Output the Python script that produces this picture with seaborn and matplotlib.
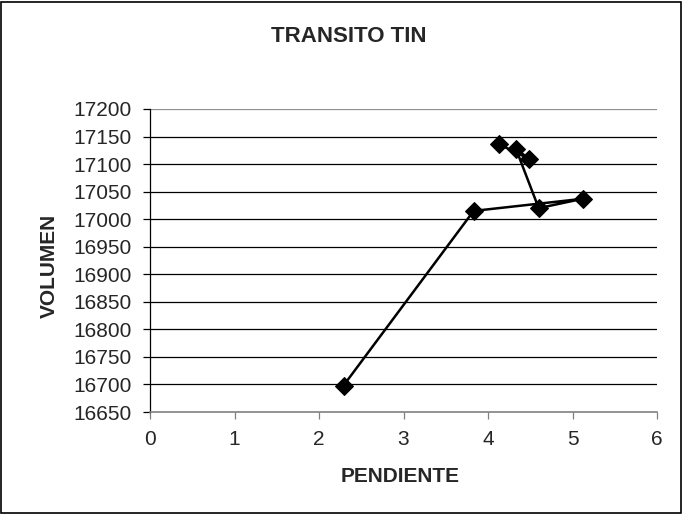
import pandas as pd
import matplotlib.pyplot as plt
import seaborn as sns

pendiente = [2.29, 3.83, 5.12, 4.60, 4.33, 4.48, 4.13]
volumen = [16698, 17015, 17037, 17020, 17128, 17110, 17136]
y_ticks = list(range(16650, 17201, 50))
x_ticks = [0, 1, 2, 3, 4, 5, 6]

data = pd.DataFrame({'PENDIENTE': pendiente, 'VOLUMEN': volumen})

sns.set_style('white')
plt.rcParams['font.family'] = ['Liberation Sans', 'DejaVu Sans']

fig = plt.figure(figsize=(6.84, 5.14), dpi=100)
ax = fig.add_axes([150 / 684, 1 - 412 / 514, 507 / 684, 303 / 514])

for v in y_ticks[1:]:
    ax.axhline(v, color='#909090' if v == y_ticks[-1] else 'black', lw=0.9, zorder=1)

sns.lineplot(data=data, x='PENDIENTE', y='VOLUMEN', sort=False, estimator=None,
             marker='D', markersize=9, color='black', markeredgecolor='black',
             linewidth=1.8, ax=ax, zorder=3)

ax.set_xlim(0, 6)
ax.set_ylim(16650, 17200)
ax.set_xticks(x_ticks)
ax.set_yticks(y_ticks)
ax.tick_params(axis='both', direction='out', length=5, width=0.9,
               labelsize=15, bottom=True, left=True)
ax.tick_params(axis='x', pad=8, color='#808080')
ax.tick_params(axis='y', pad=8, color='black')
for s in ['top', 'right']:
    ax.spines[s].set_visible(False)
ax.spines['left'].set_color('black')
ax.spines['bottom'].set_color('#808080')
ax.spines['left'].set_linewidth(0.9)
ax.spines['bottom'].set_linewidth(1.2)

ax.set_xlabel('PENDIENTE', fontsize=15, fontweight='bold')
ax.set_ylabel('VOLUMEN', fontsize=15, fontweight='bold')
ax.xaxis.set_label_coords(0.494, -0.18)
ax.yaxis.set_label_coords(-0.179, 0.482)
fig.text(349 / 684, 1 - 36 / 514, 'TRANSITO TIN', ha='center', va='center',
         fontsize=16, fontweight='bold')

fig.patches.append(plt.Rectangle((0.002, 0.002), 0.994, 0.994, transform=fig.transFigure,
                                 fill=False, edgecolor='black', lw=1.2))

fig.savefig('out.png', dpi=100, facecolor='white')
